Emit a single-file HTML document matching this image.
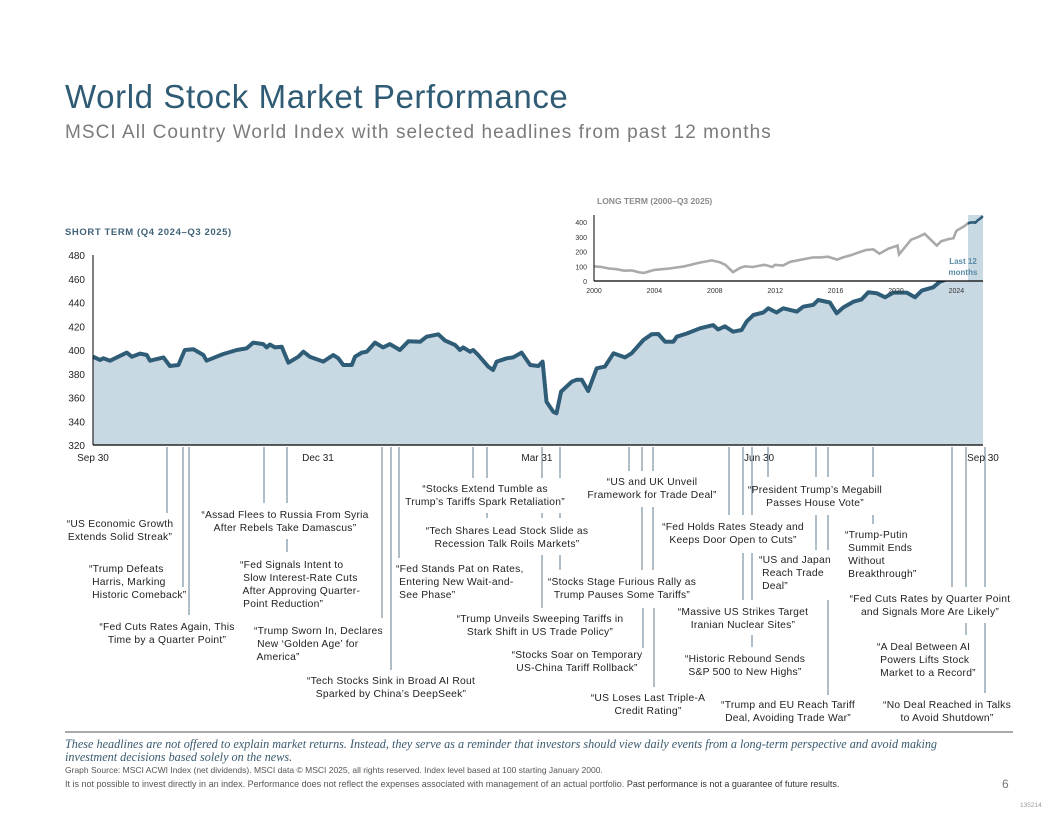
<!DOCTYPE html>
<html><head><meta charset="utf-8"><style>
body{margin:0;background:#fff;}
svg{display:block;font-family:"Liberation Sans",Arial,sans-serif;}
.ann{font-size:10.3px;fill:#222;letter-spacing:0.25px;}
.ld{stroke:#5f7d8c;stroke-width:1;}
</style></head><body>
<svg id="chart" width="1056" height="816" viewBox="0 0 1056 816" xmlns="http://www.w3.org/2000/svg">
<text x="65" y="108" font-size="33" fill="#2f5b74" letter-spacing="0.6">World Stock Market Performance</text>
<text x="65" y="138" font-size="19" fill="#7b7b7b" letter-spacing="1.05">MSCI All Country World Index with selected headlines from past 12 months</text>
<text x="65" y="235" font-size="9.5" font-weight="bold" fill="#3f6479" letter-spacing="0.6">SHORT TERM (Q4 2024–Q3 2025)</text>
<g id="main"></g>
<g id="inset"></g>
<g id="ann"></g>
<line x1="65" y1="732" x2="1013" y2="732" stroke="#555" stroke-width="1"/>
<text font-family="Liberation Serif,serif" font-style="italic" font-size="12.2" fill="#3a5a6e"><tspan x="65" y="748">These headlines are not offered to explain market returns. Instead, they serve as a reminder that investors should view daily events from a long-term perspective and avoid making</tspan><tspan x="65" y="761">investment decisions based solely on the news.</tspan></text>
<text x="65" y="773" font-size="8.5" fill="#555" letter-spacing="0">Graph Source: MSCI ACWI Index (net dividends). MSCI data © MSCI 2025, all rights reserved. Index level based at 100 starting January 2000.</text>
<text x="65" y="787" font-size="9" fill="#555" letter-spacing="0">It is not possible to invest directly in an index. Performance does not reflect the expenses associated with management of an actual portfolio. <tspan fill="#333">Past performance is not a guarantee of future results.</tspan></text>
<text x="1002" y="788" font-size="12" fill="#777">6</text>
<text x="1020" y="807" font-size="6.5" fill="#999">135214</text>
</svg>
<script>
// Short-term series: trading day index (0 = Sep 30, 250 = Sep 30) and index level
const days = [0,2,2.9,4.8,9.5,10.9,13.2,15.1,16,19.8,21.6,24,25.8,28.2,31,31.9,34.7,36.6,40.4,43.2,45,47.8,48.8,49.7,51.1,53,54.9,57.7,59.1,60.9,64.7,67.5,68.9,70.3,72.7,73.6,75.5,76.9,79.2,81.5,83.4,86.2,88.6,91.9,93.7,97,98.9,101.7,103.1,104,105.9,106.8,108.2,111,112.4,113.4,116.2,118,120.4,122.8,125.1,126.3,127.4,129.3,130.2,131.5,134.5,135.9,137.3,139.1,141.5,143.8,146.2,149.4,151.3,154.6,156.9,158.8,160.7,163,164,166.8,170.5,174.2,175.6,177.5,179.8,182.2,183.6,185.5,188.3,189.7,192,193.9,197.7,199.5,202.3,203.7,207,208.9,210.8,213.6,215.9,217.8,220.1,222.5,224.8,228.6,230.9,232.8,236,237.9,241.6,244.5,245.9,250];
const values = [394.4,391.6,393,391,397.8,394.4,397,395.8,391,393.8,386.5,387.4,400,400.6,395.8,391,394.4,396.6,400,401.4,406.2,405,402.2,404.6,402.2,402.8,389.3,394.4,398.6,394.4,390.2,395.8,393,387.4,387.4,394.4,397.8,398.6,406.2,402.2,405,400,407.3,407,411.2,413.2,407.9,404.2,400,402.2,398.6,400,395.8,386,383.2,390.2,393,393.8,397.8,387.4,386.5,390.2,356.5,348,346.7,365,373.3,375,375,365.5,384.6,386,397.2,393.8,397.2,408.4,413.2,413.5,407,407,411.2,413.9,418.3,421,417.3,420,415.4,416.8,423.9,429.5,431.6,435.1,431.6,435.1,432.3,436.5,438,442.1,440,430.9,435.9,440.7,442.6,448.6,447.8,444.4,448.3,448.3,444.4,450,452.8,457.5,461.7,463,461.2,466];
const yTicks = [320,340,360,380,400,420,440,460,480];
const xTickDays = [0,63.2,124.7,187.1,250];
const xTickLabels = ["Sep 30","Dec 31","Mar 31","Jun 30","Sep 30"];
// Long-term series (year, index level)
const ltYears = [2000,2000.5,2001,2001.5,2002,2002.5,2003,2003.3,2004,2005,2006,2007,2007.8,2008.3,2008.7,2009.2,2009.7,2010,2010.5,2011.3,2011.8,2012,2012.5,2013,2014,2014.5,2015,2015.5,2016.1,2016.5,2017,2018,2018.5,2018.9,2019.5,2020.1,2020.2,2020.6,2021,2021.5,2021.9,2022.3,2022.7,2023,2023.5,2023.8,2024,2024.5,2024.75];
const ltValues = [100,95,85,80,70,72,58,55,75,85,100,125,140,128,110,60,90,100,95,110,95,110,105,130,150,160,160,165,145,160,175,210,215,185,220,240,180,230,280,300,320,280,240,270,285,290,340,370,390];
const recentYears = [2024.75,2024.9,2025.1,2025.25,2025.4,2025.6,2025.75];
const recentValues = [390,395,398,395,410,425,440];
const ltYTicks = [0,100,200,300,400];
const ltXTicks = [2000,2004,2008,2012,2016,2020,2024];

const NS="http://www.w3.org/2000/svg";
function mk(tag,attrs,parent){const e=document.createElementNS(NS,tag);for(const k in attrs)e.setAttribute(k,attrs[k]);parent.appendChild(e);return e;}
const X=d=>93+d/250*890, Y=v=>445-(v-320)/160*190;
const main=document.getElementById('main');
let pts=days.map((d,i)=>X(d).toFixed(1)+','+Y(values[i]).toFixed(1));
const area=mk('polygon',{points:X(0)+',445 '+pts.join(' ')+' '+X(250)+',445',fill:'#c9d9e3'},main);


const line=mk('polyline',{points:pts.join(' '),fill:'none',stroke:'#2f5d78','stroke-width':4,'stroke-linejoin':'round'},main);


const ya=mk('line',{x1:93,y1:255,x2:93,y2:445,stroke:'#000','stroke-width':1},main);


const xa=mk('line',{x1:93,y1:445,x2:983,y2:445,stroke:'#000','stroke-width':1.2},main);


yTicks.forEach(v=>{const t=mk('text',{x:85,y:Y(v)+4,'font-size':10,fill:'#222','text-anchor':'end'},main);t.textContent=v;

});
xTickDays.forEach((d,i)=>{const t=mk('text',{x:X(d),y:461,'font-size':10,fill:'#222','text-anchor':'middle'},main);t.textContent=xTickLabels[i];

});

// inset
const ins=document.getElementById('inset');
const LX=y=>594+(y-2000)*15.1, LY=v=>281-v*0.1475;
const bg=mk('rect',{x:585,y:193,width:400,height:88,fill:'#fff'},ins);


const band=mk('rect',{x:968,y:215,width:15,height:73,fill:'#c9d9e3'},ins);


const lt=mk('text',{x:597,y:204,'font-size':8.5,'font-weight':'bold',fill:'#8a8a8a'},ins);lt.textContent='LONG TERM (2000–Q3 2025)';


const gl=mk('polyline',{points:ltYears.map((y,i)=>LX(y).toFixed(1)+','+LY(ltValues[i]).toFixed(1)).join(' '),fill:'none',stroke:'#aaa','stroke-width':2.6},ins);


const bl=mk('polyline',{points:recentYears.map((y,i)=>LX(y).toFixed(1)+','+LY(recentValues[i]).toFixed(1)).join(' '),fill:'none',stroke:'#2f5d78','stroke-width':2.6},ins);


const iya=mk('line',{x1:594,y1:215,x2:594,y2:281,stroke:'#000'},ins);


const ixa=mk('line',{x1:594,y1:281,x2:983,y2:281,stroke:'#000','stroke-width':1.2},ins);


ltYTicks.forEach(v=>{const t=mk('text',{x:587,y:LY(v)+3,'font-size':7,fill:'#333','text-anchor':'end'},ins);t.textContent=v;

});
ltXTicks.forEach(y=>{const t=mk('text',{x:LX(y),y:293,'font-size':7,fill:'#333','text-anchor':'middle'},ins);t.textContent=y;

});
const l12=mk('text',{x:963,y:264,'font-size':8,'font-weight':'bold',fill:'#5a8aa5','text-anchor':'middle'},ins);
l12.innerHTML='<tspan x="963" y="264">Last 12</tspan><tspan x="963" y="275">months</tspan>';



// annotations: leader segments [x, y1, y2] and text blocks
const leaders=[[167,447,513],[183,447,587],[189,447,615],[264,447,503],[287,447,503],[287,539,552],[382,447,618],[391,447,670],[399,447,558],
[473,447,478],[487,447,478],[487,513,518],[542,447,478],[542,513,518],[542,555,608],[560,447,478],[560,513,518],[560,555,570],
[629,447,471],[642,447,471],[642,507,570],[653,447,471],[653,507,570],[643,608,648],[654,608,687],
[729,447,515],[743,447,515],[743,553,600],[752,447,515],[752,553,600],[752,635,647],[768,447,477],
[816,447,477],[816,515,550],[828,447,477],[828,515,550],[828,600,695],[873,447,477],[873,515,524],
[952,447,587],[966,447,587],[966,623,635],[985,447,587],[985,623,693]];
const ann=document.getElementById('ann');
leaders.forEach(s=>{const l=mk('line',{x1:s[0],y1:s[1],x2:s[0],y2:s[2],class:'ld'},ann);

});
const notes=[
["middle",120,527,["“US Economic Growth","Extends Solid Streak”"]],
["start",89,572,["“Trump Defeats"," Harris, Marking"," Historic Comeback”"]],
["middle",167,630,["“Fed Cuts Rates Again, This","Time by a Quarter Point”"]],
["middle",285,518,["“Assad Flees to Russia From Syria","After Rebels Take Damascus”"]],
["start",240,568,["“Fed Signals Intent to"," Slow Interest-Rate Cuts"," After Approving Quarter-"," Point Reduction”"]],
["start",254,634,["“Trump Sworn In, Declares"," New ‘Golden Age’ for"," America”"]],
["middle",391,684,["“Tech Stocks Sink in Broad AI Rout","Sparked by China’s DeepSeek”"]],
["start",396,572,["“Fed Stands Pat on Rates,"," Entering New Wait-and-"," See Phase”"]],
["middle",485,492,["“Stocks Extend Tumble as","Trump’s Tariffs Spark Retaliation”"]],
["middle",507,534,["“Tech Shares Lead Stock Slide as","Recession Talk Roils Markets”"]],
["middle",540,622,["“Trump Unveils Sweeping Tariffs in","Stark Shift in US Trade Policy”"]],
["middle",622,585,["“Stocks Stage Furious Rally as","Trump Pauses Some Tariffs”"]],
["middle",577,658,["“Stocks Soar on Temporary","US-China Tariff Rollback”"]],
["middle",648,701,["“US Loses Last Triple-A","Credit Rating”"]],
["middle",652,485,["“US and UK Unveil","Framework for Trade Deal”"]],
["middle",733,530,["“Fed Holds Rates Steady and","Keeps Door Open to Cuts”"]],
["middle",743,615,["“Massive US Strikes Target","Iranian Nuclear Sites”"]],
["middle",745,662,["“Historic Rebound Sends","S&P 500 to New Highs”"]],
["middle",788,708,["“Trump and EU Reach Tariff","Deal, Avoiding Trade War”"]],
["middle",815,493,["“President Trump’s Megabill","Passes House Vote”"]],
["start",759,563,["“US and Japan"," Reach Trade"," Deal”"]],
["start",845,538,["“Trump-Putin"," Summit Ends"," Without"," Breakthrough”"]],
["middle",930,602,["“Fed Cuts Rates by Quarter Point","and Signals More Are Likely”"]],
["start",877,650,["“A Deal Between AI"," Powers Lifts Stock"," Market to a Record”"]],
["middle",947,708,["“No Deal Reached in Talks","to Avoid Shutdown”"]]];
notes.forEach(n=>{const t=mk('text',{class:'ann','text-anchor':n[0],'xml:space':'preserve'},ann);


n[3].forEach((s,i)=>{const sp=mk('tspan',{x:n[1],y:n[2]+i*13},t);sp.textContent=s;});});
</script>
</body></html>
